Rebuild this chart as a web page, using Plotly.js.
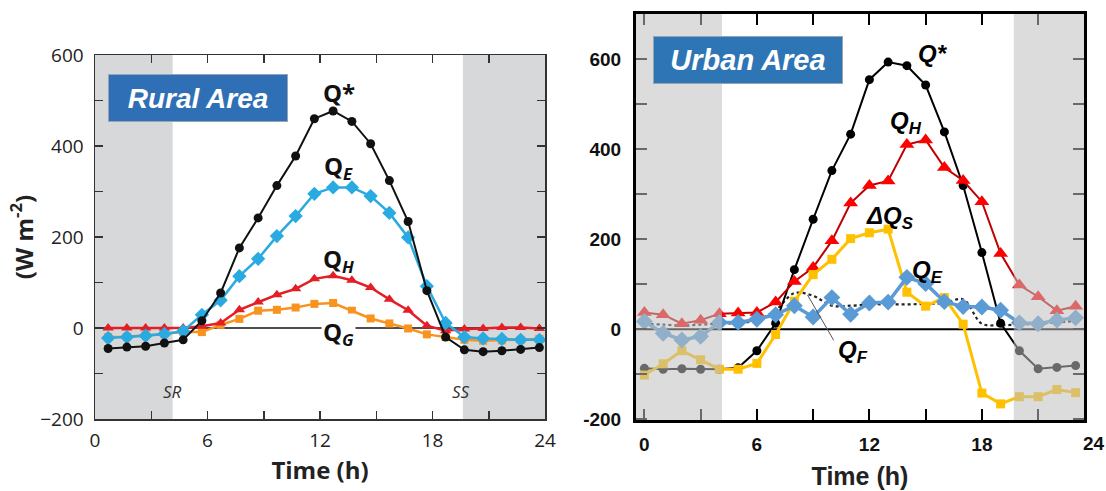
<!DOCTYPE html>
<html>
<head>
<meta charset="utf-8">
<script src="https://cdn.plot.ly/plotly-3.0.1.min.js"></script>
<style>html,body{margin:0;padding:0;background:#fff;}#chart{width:1106px;height:491px;}</style>
</head>
<body>
<div id="chart"></div>
<script>
// ---------- Rural panel data ----------
const ruralHours = [0.7,1.7,2.7,3.7,4.7,5.7,6.7,7.7,8.7,9.7,10.7,11.7,12.7,13.7,14.7,15.7,16.7,17.7,18.7,19.7,20.7,21.7,22.7,23.7];
const ruralQstar = [-45,-42,-40,-33,-26,16,77,176,242,313,378,460,477,454,405,324,234,82,-20,-48,-52,-50,-47,-43];
const ruralQE    = [-22,-20,-17,-13,-7,29,61,114,152,202,246,295,309,309,290,253,199,92,11,-20,-23,-24,-26,-26];
const ruralQH    = [0,0,0,0,0,4,11,40,57,73,86,108,115,105,89,63,39,5,-6,-2,-1,1,1,-1];
const ruralQG    = [-20,-19,-16,-13,-8,-9,7,20,38,40,45,53,55,38,21,10,-1,-14,-20,-26,-28,-27,-26,-24];
const ruralNight = [[0,4.14],[19.62,24]];

// ---------- Urban panel data ----------
const urbanHours = [0,1,2,3,4,5,6,7,8,9,10,11,12,13,14,15,16,17,18,19,20,21,22,23];
const urbanQstar = [-87,-89,-88,-89,-89,-86,-48,13,132,244,352,433,554,593,585,542,438,319,170,13,-48,-88,-85,-81];
const urbanQH    = [37,32,12,20,34,36,37,60,106,137,196,280,319,329,410,420,359,330,283,168,98,72,41,51];
const urbanQE    = [17,-9,-24,-16,15,15,22,32,52,27,70,33,58,60,115,101,61,50,49,42,14,12,20,25];
const urbanDQS   = [-102,-77,-48,-68,-89,-89,-76,-12,62,121,155,201,214,222,82,51,70,11,-142,-166,-150,-150,-134,-141];
const urbanQF    = [12,10,8,10,12,14,20,42,80,74,52,52,55,55,55,56,58,66,12,9,10,12,15,18];
const urbanNight = [[-0.5,4.14],[19.7,23.5]];

// tick labels
const xTickVals = [0,6,12,18,24];
const xTickText = ['0','6','12','18','24'];
const x2TickVals = [0,6,12,18];
const x2TickText = ['0','6','12','18'];
const yTickVals = [-200,0,200,400,600];
const yTickTextRural = ['\u2212200','0','200','400','600'];
const yTickTextUrban = ['-200','0','200','400','600'];

const W = 1106, H = 491;
const leftFont = 'Open Sans, Noto Sans, sans-serif';
const rightFont = 'Liberation Sans, Arial, sans-serif';

const traces = [
  {x: ruralHours, y: ruralQG, mode:'lines+markers', line:{color:'#f7931e', width:2.5}, marker:{symbol:'square', size:8, color:'#f7931e'}, xaxis:'x', yaxis:'y'},
  {x: ruralHours, y: ruralQH, mode:'lines+markers', line:{color:'#e41e26', width:2.5}, marker:{symbol:'triangle-up', size:10, color:'#e41e26'}, xaxis:'x', yaxis:'y'},
  {x: ruralHours, y: ruralQE, mode:'lines+markers', line:{color:'#29aae1', width:2.5}, marker:{symbol:'diamond', size:11, color:'#29aae1'}, xaxis:'x', yaxis:'y'},
  {x: ruralHours, y: ruralQstar, mode:'lines+markers', line:{color:'#111', width:2}, marker:{symbol:'circle', size:9, color:'#111'}, xaxis:'x', yaxis:'y'},

  {x: urbanHours, y: urbanQF, mode:'lines', line:{color:'#222', width:2.2, dash:'dot', shape:'spline'}, xaxis:'x2', yaxis:'y2'},
  {x: urbanHours, y: urbanQstar, mode:'lines+markers', line:{color:'#000', width:2}, marker:{symbol:'circle', size:9, color:'#000'}, xaxis:'x2', yaxis:'y2'},
  {x: urbanHours, y: urbanQH, mode:'lines+markers', line:{color:'#c00000', width:2}, marker:{symbol:'triangle-up', size:13, color:'#ff0000'}, xaxis:'x2', yaxis:'y2'},
  {x: urbanHours, y: urbanDQS, mode:'lines+markers', line:{color:'#ffc000', width:3}, marker:{symbol:'square', size:9, color:'#ffc000'}, xaxis:'x2', yaxis:'y2'},
  {x: urbanHours, y: urbanQE, mode:'lines+markers', line:{color:'#5b9bd5', width:3.5}, marker:{symbol:'diamond', size:13, color:'#5b9bd5'}, xaxis:'x2', yaxis:'y2'}
];

const shapes = [];
ruralNight.forEach(r => shapes.push({type:'rect', xref:'x', yref:'y domain', x0:r[0], x1:r[1], y0:0, y1:1, fillcolor:'#d7d8da', line:{width:0}, layer:'below'}));
shapes.push({type:'line', xref:'x', yref:'y', x0:0, x1:24, y0:0, y1:0, line:{color:'#111', width:1.5}, layer:'below'});
shapes.push({type:'line', xref:'x2', yref:'y2', x0:-0.5, x1:23.5, y0:0, y1:0, line:{color:'#000', width:2}, layer:'below'});
urbanNight.forEach(r => shapes.push({type:'rect', xref:'x2', yref:'y2 domain', x0:r[0], x1:r[1], y0:0, y1:1, fillcolor:'#bfbfbf', opacity:0.55, line:{width:0}, layer:'above'}));
shapes.push({type:'rect', xref:'x2 domain', yref:'y2 domain', x0:0, x1:1, y0:0, y1:1, line:{color:'#000', width:2}, fillcolor:'rgba(0,0,0,0)', layer:'above'});
// Q_F leader line
shapes.push({type:'line', xref:'x2', yref:'y2', x0:8.7, y0:76, x1:10.1, y1:-25, line:{color:'#555', width:1}, layer:'above'});

const lblL = {family:leftFont, size:24, color:'#111'};
const lblR = {family:rightFont, size:24, color:'#000'};
const annotations = [
  {xref:'x', yref:'y', x:5.5, y:505, text:'<b><i>Rural Area</i></b>', showarrow:false, font:{family:rightFont, size:28, color:'#fff'}, bgcolor:'#2e6fb5', bordercolor:'#9aa4b0', borderwidth:1, width:176, height:44, align:'center', valign:'middle'},
  {xref:'x', yref:'y', x:13.0, y:517, text:'<b>Q*</b>', showarrow:false, font:lblL},
  {xref:'x', yref:'y', x:13.0, y:353, text:'<b>Q<sub><i>E</i></sub></b>', showarrow:false, font:lblL},
  {xref:'x', yref:'y', x:13.0, y:150, text:'<b>Q<sub><i>H</i></sub></b>', showarrow:false, font:lblL},
  {xref:'x', yref:'y', x:13.0, y:-12, text:'<b>Q<sub><i>G</i></sub></b>', showarrow:false, font:lblL, bgcolor:'#fff'},
  {xref:'x', yref:'y', x:4.14, y:-140, text:'<i>SR</i>', showarrow:false, font:{family:leftFont, size:17, color:'#333'}},
  {xref:'x', yref:'y', x:19.5, y:-140, text:'<i>SS</i>', showarrow:false, font:{family:leftFont, size:17, color:'#333'}},

  {xref:'x2', yref:'y2', x:5.5, y:598, text:'<b><i>Urban Area</i></b>', showarrow:false, font:{family:rightFont, size:29, color:'#fff'}, bgcolor:'#2e75b6', bordercolor:'#9aa4b0', borderwidth:1, width:186, height:44, align:'center', valign:'middle'},
  {xref:'x2', yref:'y2', x:15.4, y:611, text:'<b><i>Q*</i></b>', showarrow:false, font:lblR},
  {xref:'x2', yref:'y2', x:13.95, y:459, text:'<b><i>Q<sub>H</sub></i></b>', showarrow:false, font:lblR},
  {xref:'x2', yref:'y2', x:13.1, y:247, text:'<b><i>\u0394Q<sub>S</sub></i></b>', showarrow:false, font:lblR},
  {xref:'x2', yref:'y2', x:15.1, y:128, text:'<b><i>Q<sub>E</sub></i></b>', showarrow:false, font:lblR},
  {xref:'x2', yref:'y2', x:11.1, y:-50, text:'<b><i>Q<sub>F</sub></i></b>', showarrow:false, font:lblR},
  {xref:'paper', yref:'paper', x:1094/W, y:(H-443)/H, xanchor:'center', yanchor:'middle', text:'<b>24</b>', showarrow:false, font:{family:rightFont, size:19, color:'#111'}}
];

const minorL = {ticks:'inside', ticklen:8, tickwidth:1.5, tickcolor:'#333'};
const minorR = {ticks:'inside', ticklen:12, tickwidth:2, tickcolor:'#000'};

const layout = {
  width: W, height: H,
  margin:{l:0, r:0, t:0, b:0},
  paper_bgcolor:'#fff', plot_bgcolor:'#fff',
  showlegend:false,
  xaxis:{domain:[95/W, 545/W], range:[0,24], anchor:'y', tickvals:xTickVals, ticktext:xTickText,
    minor:Object.assign({dtick:3, tick0:0}, minorL),
    ticks:'inside', ticklen:8, tickwidth:1.5, tickcolor:'#333', showline:true, linecolor:'#333', linewidth:1.5, mirror:'ticks',
    showgrid:false, zeroline:false, ticklabelstandoff:4,
    tickfont:{family:leftFont, size:19, color:'#222'},
    title:{text:'<b>Time (h)</b>', font:{family:leftFont, size:24, color:'#222'}, standoff:6}},
  yaxis:{domain:[1-419/H, 1-55/H], range:[-200,600], anchor:'x', tickvals:yTickVals, ticktext:yTickTextRural,
    minor:Object.assign({dtick:100, tick0:0}, minorL),
    ticks:'inside', ticklen:8, tickwidth:1.5, tickcolor:'#333', showline:true, linecolor:'#333', linewidth:1.5, mirror:'ticks',
    showgrid:false, zeroline:false, ticklabelstandoff:6,
    tickfont:{family:leftFont, size:19, color:'#222'},
    title:{text:'<b>(W m<sup>-2</sup>)</b>', font:{family:leftFont, size:24, color:'#222'}, standoff:0}},
  xaxis2:{domain:[635/W, 1085/W], range:[-0.5,23.5], anchor:'y2', tickvals:x2TickVals, ticktext:x2TickText,
    minor:Object.assign({dtick:3, tick0:0}, minorR),
    ticks:'inside', ticklen:12, tickwidth:2, tickcolor:'#000', showline:true, linecolor:'#000', linewidth:2, mirror:'ticks',
    showgrid:false, zeroline:false, ticklabelstandoff:5,
    tickfont:{family:rightFont, size:19, color:'#111', weight:'bold'},
    title:{text:'<b>Time (h)</b>', font:{family:rightFont, size:25, color:'#222'}, standoff:14}},
  yaxis2:{domain:[1-421/H, 1-13/H], range:[-204,702], anchor:'x2', tickvals:yTickVals, ticktext:yTickTextUrban,
    minor:Object.assign({dtick:100, tick0:0}, minorR),
    ticks:'inside', ticklen:12, tickwidth:2, tickcolor:'#000', showline:true, linecolor:'#000', linewidth:2, mirror:'ticks',
    showgrid:false, zeroline:false, ticklabelstandoff:8,
    tickfont:{family:rightFont, size:19, color:'#111', weight:'bold'}},
  shapes: shapes,
  annotations: annotations
};

Plotly.newPlot('chart', traces, layout, {displayModeBar:false, staticPlot:true});
</script>
</body>
</html>
